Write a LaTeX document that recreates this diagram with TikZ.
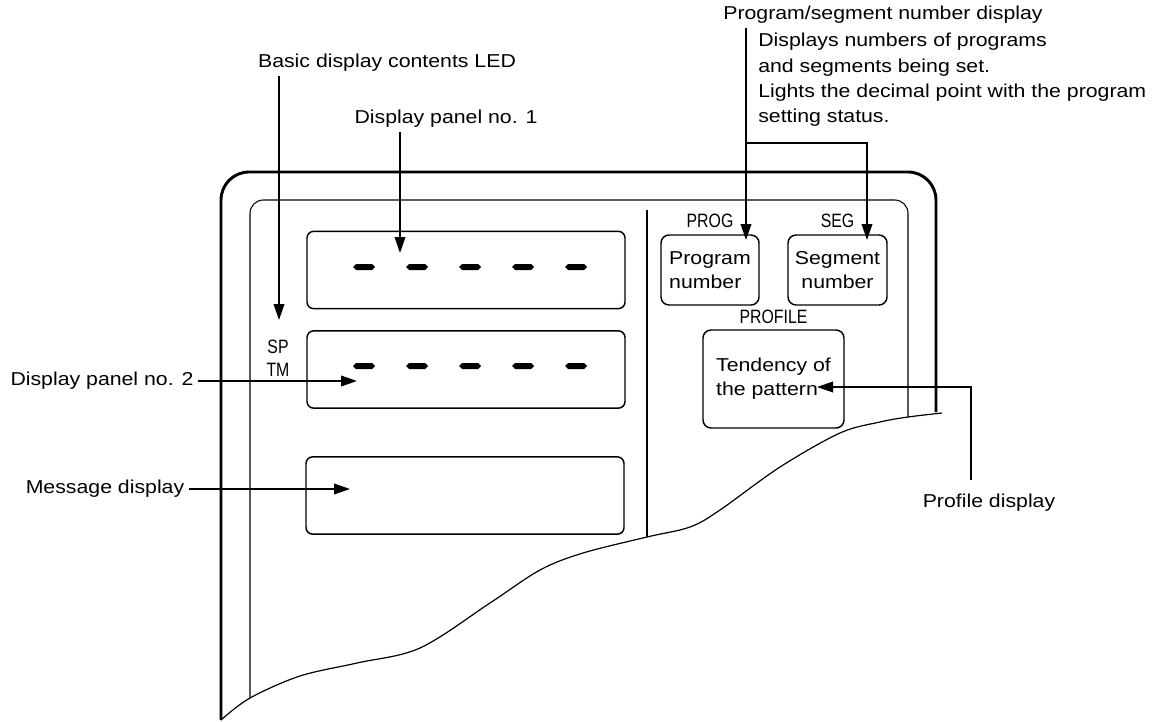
\documentclass[tikz,border=0pt]{standalone}
\usepackage{fontspec}
\setmainfont{Liberation Sans}[FakeStretch=1.14]
\newfontfamily\capsfont{Liberation Sans}[FakeStretch=0.82]
\usepackage{tikz}
\usetikzlibrary{positioning,arrows.meta}
\tikzset{
  panel/.style={draw,line width=1.1pt,rounded corners=5pt,minimum width=238.5pt,minimum height=58pt},
  keybox/.style={draw,line width=1.1pt,rounded corners=6pt,inner sep=0pt,font=\fontsize{14pt}{18pt}\selectfont},
  plain/.style={font=\fontsize{14pt}{19pt}\selectfont},
  caps/.style={font=\capsfont\fontsize{14.5pt}{17pt}\selectfont,inner sep=1pt},
  flow/.style={-{Triangle[length=12pt,width=8pt]},line width=1.1pt},
  outer/.style={line width=2.2pt,rounded corners=21pt},
  inner/.style={line width=0.8pt,rounded corners=10pt},
  divider/.style={line width=2.2pt},
  cutline/.style={line width=0.9pt}}

\begin{document}
\begin{tikzpicture}[x=0.75pt,y=-0.75pt]
  \useasboundingbox (0,0) rectangle (1159,721);
  % housing and torn edge
  \draw[outer] (221,720) -- (221,172) -- (936,172) -- (936,412);
  \draw[inner] (250,698) -- (250,200) -- (908,200) -- (908,417);
  \draw[cutline] plot[smooth,tension=0.55] coordinates {(221,720) (250,698) (300,676) (357,663) (420,648) (490,603) (540,570) (583,553) (647,537) (690,527) (720,510) (780,467) (840,433) (880,422) (908,417) (942,413)};
  \draw[divider] (647,210) -- (647,537);
  % display panels
  \node[panel] (disp1) at (466,270) {};
  \node[panel] (disp2) at (466,369.5) {};
  \node[panel] (msgbox) at (465,495.5) {};
  \foreach \x in {364,417,470,523,576}{
    \fill (\x,267) +(-11,0) -- +(-8,-3) -- +(8,-3) -- +(11,0) -- +(8,3) -- +(-8,3) -- cycle;
    \fill (\x,366) +(-11,0) -- +(-8,-3) -- +(8,-3) -- +(11,0) -- +(8,3) -- +(-8,3) -- cycle;}
  \node[caps] (sp) at (278,347) {SP};
  \node[caps] (tm) at (278,370) {TM};
  % program side
  \node[keybox,minimum width=73.5pt,minimum height=52.5pt,align=left] (prog) at (710,270) {Program\\number};
  \node[keybox,minimum width=74.25pt,minimum height=52.5pt,align=center] (seg) at (837.5,270) {Segment\\number};
  \node[keybox,minimum width=105.75pt,minimum height=73.5pt,align=left] (trend) at (773.5,379) {Tendency of\\the pattern};
  \node[caps,above=3.5pt of prog] (proglbl) {PROG};
  \node[caps,above=3.5pt of seg] (seglbl) {SEG};
  \node[caps,above=3pt of trend] (trendlbl) {PROFILE};
  % callouts
  \node[plain] (ledlbl) at (387,63) {Basic display contents LED};
  \node[plain] (d1lbl) at (446,119) {Display panel no. 1};
  \node[plain] (d2lbl) at (102,381) {Display panel no. 2};
  \node[plain] (msglbl) at (105,489) {Message display};
  \node[plain] (psnlbl) at (883,15) {Program/segment number display};
  \node[plain,align=left,anchor=west,inner sep=0pt] (psntxt) at (758,80) {Displays numbers of programs\\and segments being set.\\Lights the decimal point with the program\\setting status.};
  \node[plain] (proflbl) at (989,503) {Profile display};
  \coordinate (ledtip) at (279,320);
  \coordinate (d1tip) at (400,253);
  \coordinate (d2tip) at (357,381);
  \coordinate (msgtip) at (350,489);
  \coordinate (progtip) at (746,240);
  \coordinate (segtip) at (867,240);
  \coordinate (fork) at (746,143);
  \coordinate (bend) at (971,387);
  \coordinate (proftip) at (817,387);
  \draw[flow] (ledlbl.south -| ledtip) -- (ledtip);
  \draw[flow] (d1lbl.south -| d1tip) -- (d1tip);
  \draw[flow] (d2lbl.east) -- (d2lbl.east -| d2tip);
  \draw[flow] (msglbl.east) -- (msglbl.east -| msgtip);
  \draw[flow] (psnlbl.south -| progtip) -- (progtip);
  \draw[flow] (fork) -| (segtip);
  \draw[flow,shorten <=7pt] (proflbl.north -| bend) -- (bend) -- (proftip);
\end{tikzpicture}
\end{document}
